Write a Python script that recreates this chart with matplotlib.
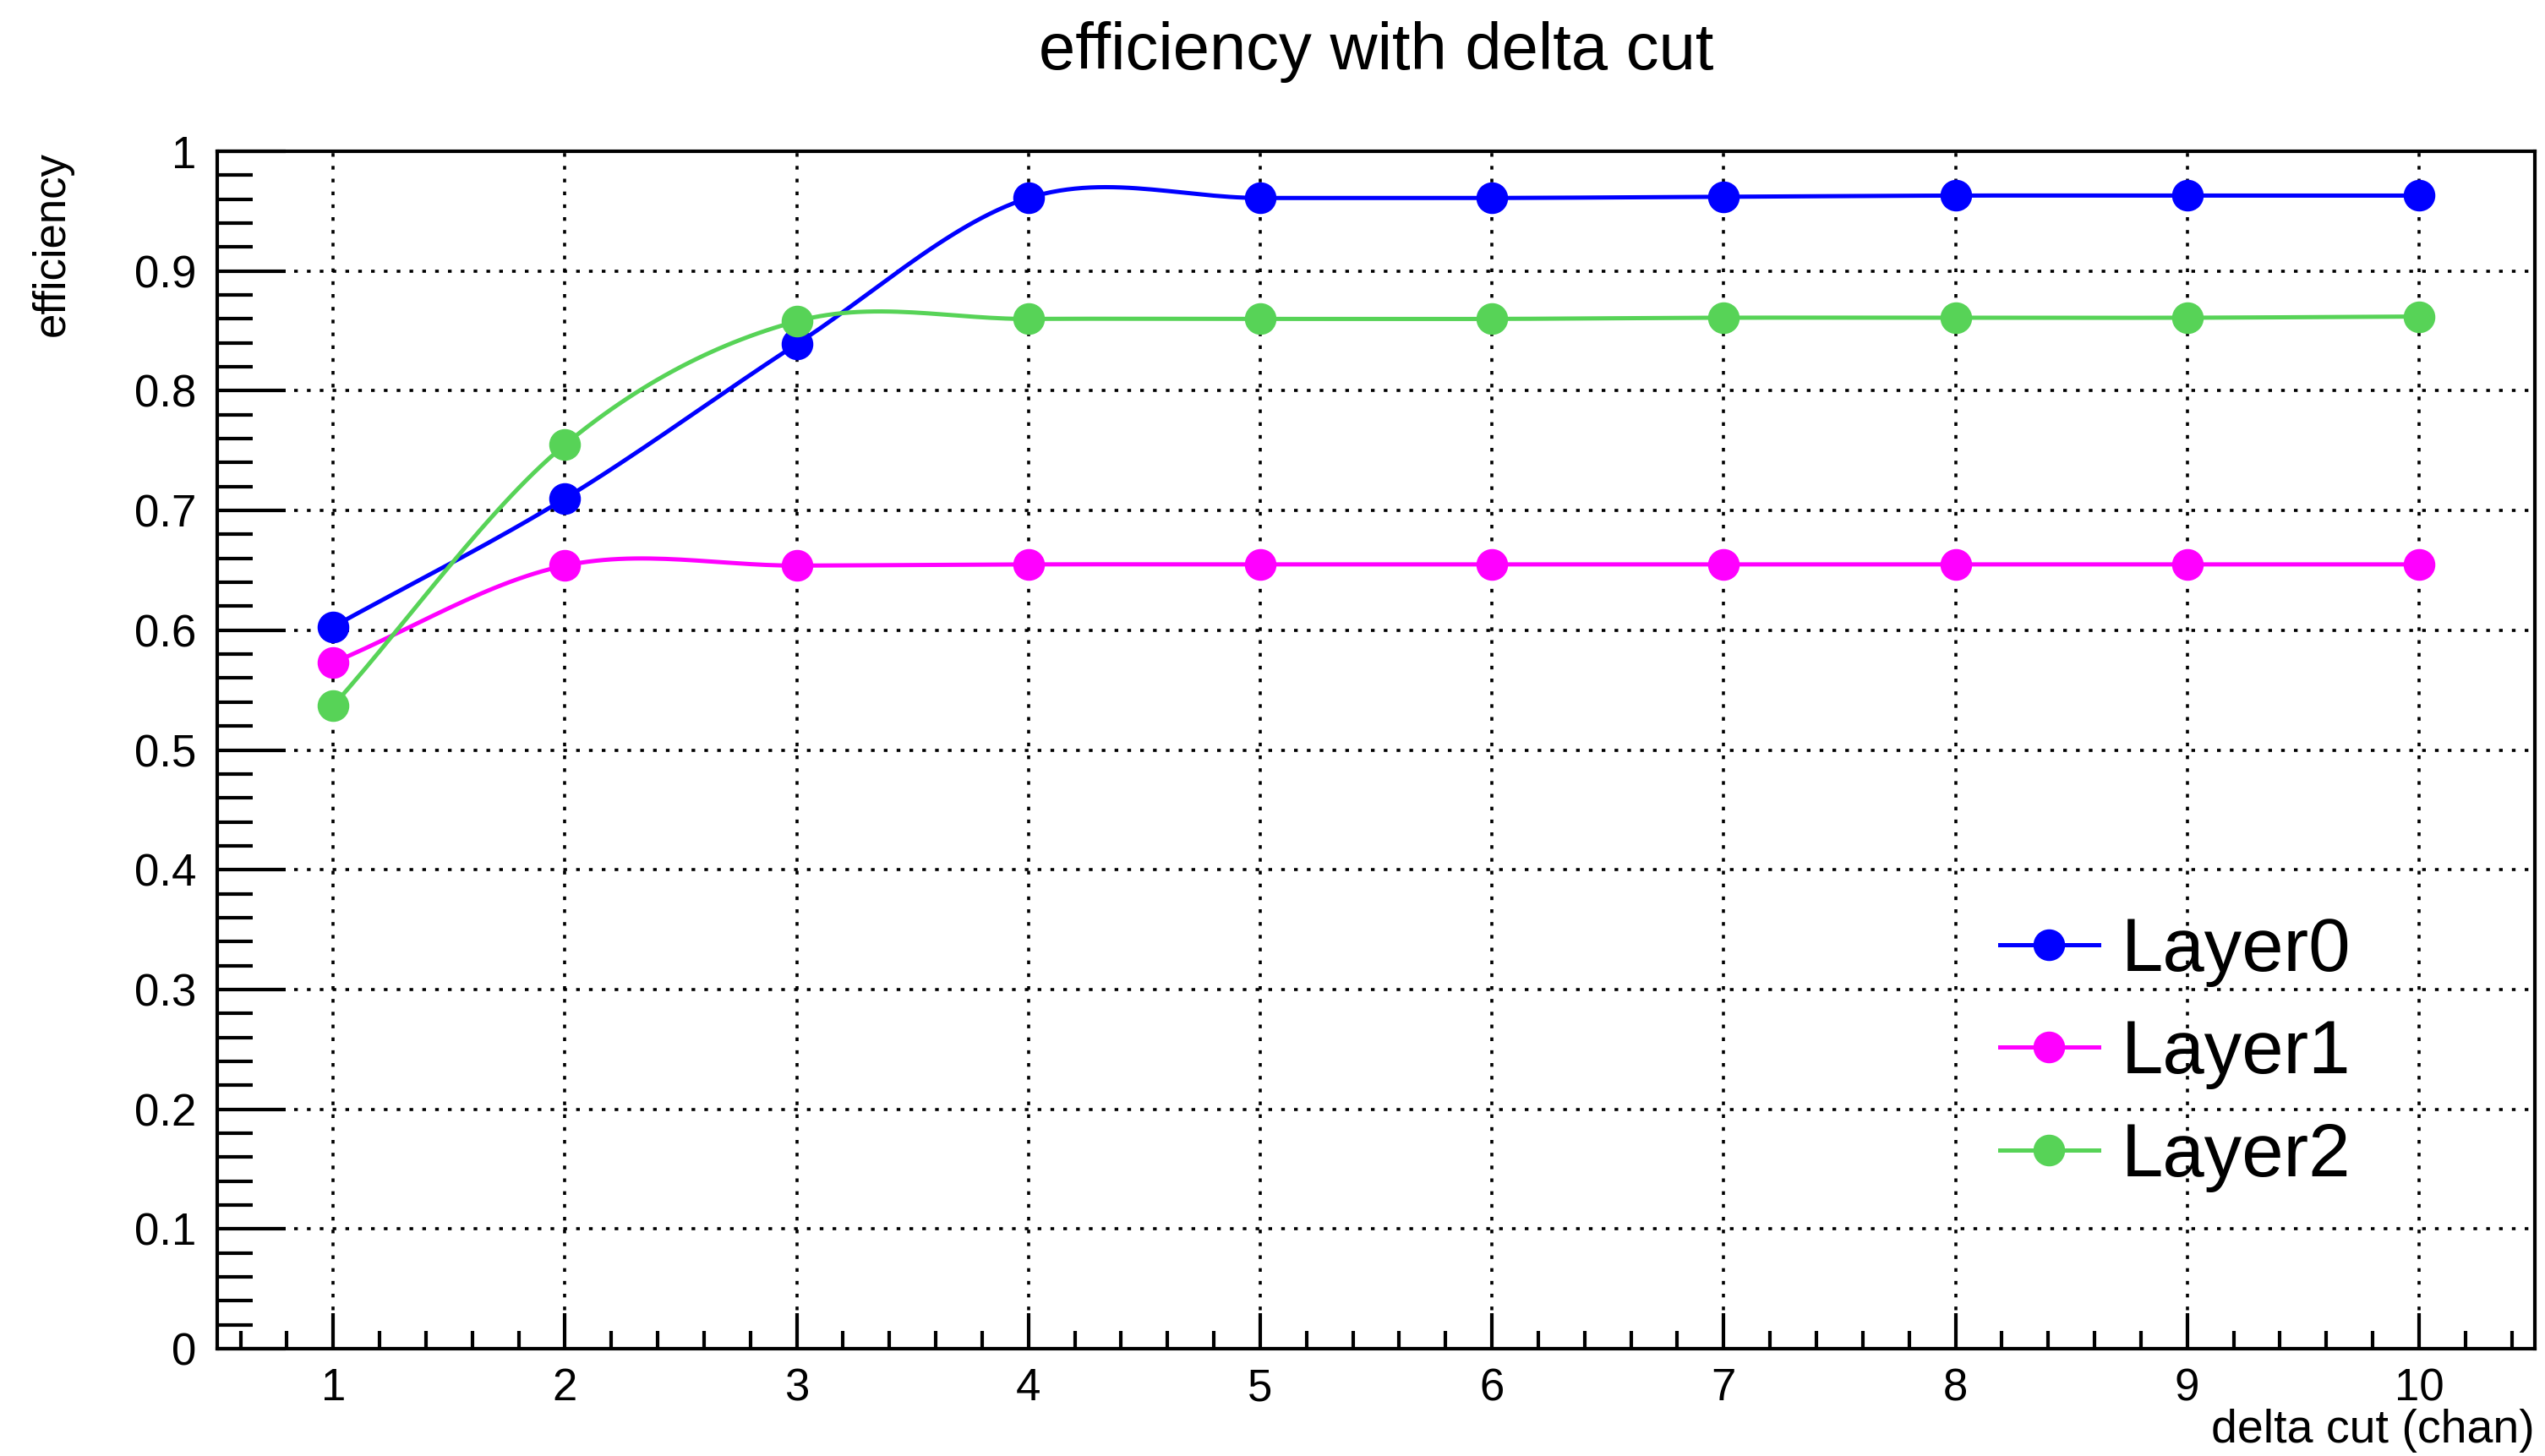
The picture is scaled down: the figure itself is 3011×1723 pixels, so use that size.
import numpy as np
import matplotlib.pyplot as plt
from matplotlib.ticker import MultipleLocator

plt.rcParams['font.family'] = ['Liberation Sans', 'DejaVu Sans']

# data
delta_cut = [1, 2, 3, 4, 5, 6, 7, 8, 9, 10]
layer0 = [0.603, 0.710, 0.839, 0.961, 0.961, 0.961, 0.962, 0.963, 0.963, 0.963]
layer1 = [0.573, 0.654, 0.654, 0.655, 0.655, 0.655, 0.655, 0.655, 0.655, 0.655]
layer2 = [0.537, 0.755, 0.858, 0.860, 0.860, 0.860, 0.861, 0.861, 0.861, 0.862]
labels = ['Layer0', 'Layer1', 'Layer2']
colors = ['#0000ff', '#ff00ff', '#57d357']


def smooth(x, y, n=30):
    # catmull-rom curve through the points, like ROOT's "C" option
    x = np.asarray(x, float)
    y = np.asarray(y, float)
    m = np.gradient(y, x)
    xs, ys = [], []
    for i in range(len(x) - 1):
        h = x[i + 1] - x[i]
        t = np.linspace(0, 1, n, endpoint=False)
        h00 = 2 * t**3 - 3 * t**2 + 1
        h10 = t**3 - 2 * t**2 + t
        h01 = -2 * t**3 + 3 * t**2
        h11 = t**3 - t**2
        xs.append(x[i] + t * h)
        ys.append(h00 * y[i] + h10 * h * m[i] + h01 * y[i + 1] + h11 * h * m[i + 1])
    xs.append([x[-1]])
    ys.append([y[-1]])
    return np.concatenate(xs), np.concatenate(ys)


fig = plt.figure(figsize=(30.11, 17.23), dpi=100)
ax = fig.add_axes([0.0854, 0.0737, 0.9106, 0.8224])

for yv, lab, c in zip([layer0, layer1, layer2], labels, colors):
    sx, sy = smooth(delta_cut, yv)
    ax.plot(sx, sy, color=c, lw=3.6)
    ax.plot(delta_cut, yv, 'o', color=c, ms=26, ls='none')
    # legend proxy
    ax.plot([], [], '-o', color=c, ms=26, lw=3.6, label=lab)

ax.set_xlim(0.5, 10.5)
ax.set_ylim(0, 1)
ax.xaxis.set_major_locator(MultipleLocator(1))
ax.xaxis.set_minor_locator(MultipleLocator(0.2))
ax.yaxis.set_major_locator(MultipleLocator(0.1))
ax.yaxis.set_minor_locator(MultipleLocator(0.02))
ax.set_yticks(np.arange(0, 1.01, 0.1))
ax.set_yticklabels(['0', '0.1', '0.2', '0.3', '0.4', '0.5', '0.6', '0.7', '0.8', '0.9', '1'])

ax.tick_params(axis='both', which='both', direction='in', top=False, right=False, labelsize=38, width=3)
ax.tick_params(axis='y', which='major', length=58, pad=18)
ax.tick_params(axis='y', which='minor', length=30)
ax.tick_params(axis='x', which='major', length=30, pad=16)
ax.tick_params(axis='x', which='minor', length=15)

for s in ax.spines.values():
    s.set_linewidth(3)

ax.grid(True, which='major', color='black', lw=2.6, ls=(0, (1.2, 3.0)))

ax.set_title('efficiency with delta cut', fontsize=56, pad=70)
ax.set_xlabel('delta cut (chan)', fontsize=40, loc='right', labelpad=-1)
ax.set_ylabel('efficiency', fontsize=38, loc='top', labelpad=52)

ax.legend(loc='center left', bbox_to_anchor=(0.769, 0.246), frameon=False, fontsize=64,
          handlelength=1.32, handletextpad=0.3, labelspacing=0.42, borderpad=0, borderaxespad=0)

fig.savefig('out.png', dpi=100)
